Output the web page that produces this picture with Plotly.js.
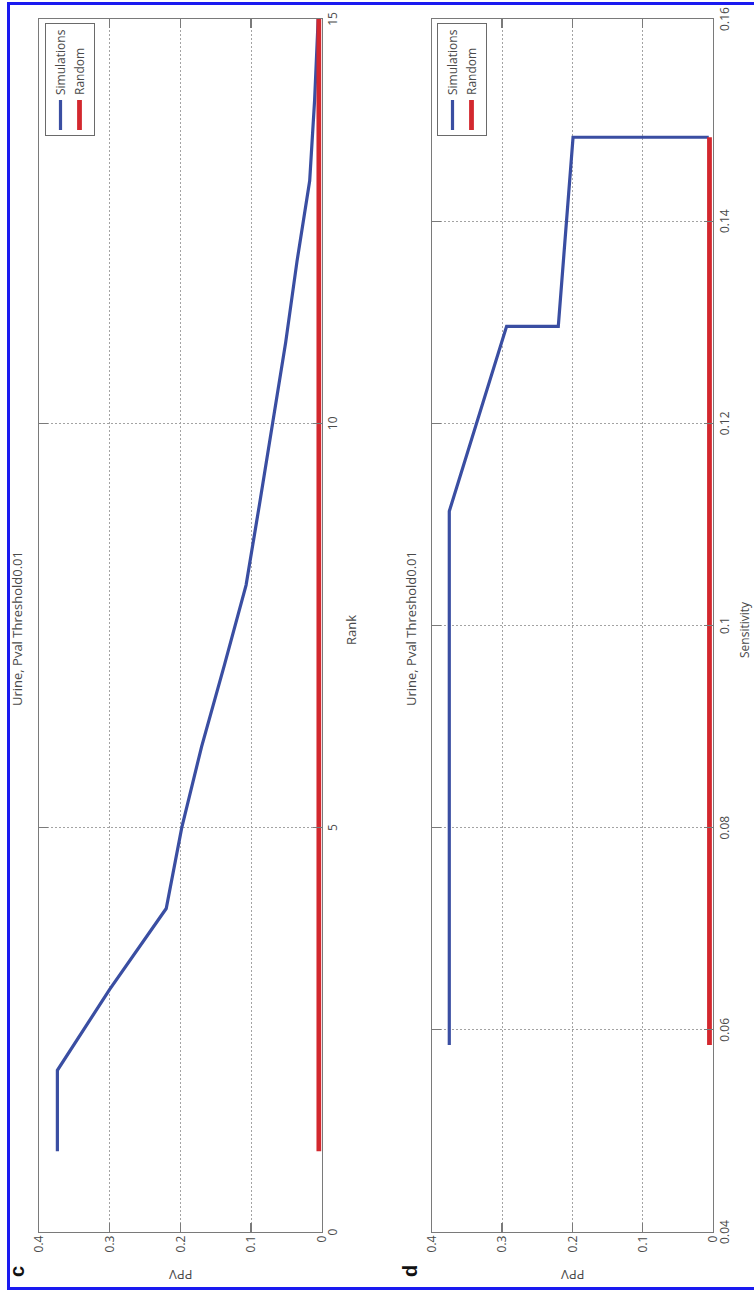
<!DOCTYPE html>
<html>
<head>
<meta charset="utf-8">
<script src="https://cdn.plot.ly/plotly-3.0.1.min.js"></script>
<style>
  html, body { margin:0; padding:0; background:#fff; overflow:hidden; width:754px; height:1291px; }
  #frame { position:absolute; left:7px; top:2px; width:800px; height:1282px;
           border-left:3px solid #1a1af0; border-top:3px solid #1a1af0; border-bottom:3px solid #1a1af0; }
  #wrap { position:absolute; left:0; top:0; width:1291px; height:754px;
          transform-origin:0 0; }
</style>
</head>
<body>
<div id="wrap"></div>
<div id="frame"></div>
<script>
// ---- Panel c: PPV versus rank ----
const rankSim = [1, 2, 3, 4, 5, 6, 7, 8, 9, 10, 11, 12, 13, 14, 15];
const ppvSimRank = [0.374, 0.374, 0.300, 0.220, 0.198, 0.170, 0.138, 0.107, 0.088, 0.069, 0.051, 0.035, 0.017, 0.010, 0.005];
const rankRandom = [1, 15];
const ppvRandomRank = [0.004, 0.004];

// ---- Panel d: PPV versus sensitivity ----
const sensSim = [0.0585, 0.1113, 0.1296, 0.1296, 0.1483, 0.1483];
const ppvSimSens = [0.375, 0.375, 0.2935, 0.220, 0.199, 0.006];
const sensRandom = [0.0585, 0.1483];
const ppvRandomSens = [0.005, 0.005];

// ---- tick labels ----
const ppvTicks = [0, 0.1, 0.2, 0.3, 0.4];
const ppvTickText = ['0', '0.1', '0.2', '0.3', '0.4'];
const rankTicks = [0, 5, 10, 15];
const rankTickText = ['0', '5', '10', '15'];
const sensTicks = [0.04, 0.06, 0.08, 0.1, 0.12, 0.14, 0.16];
const sensTickText = ['0.04', '0.06', '0.08', '0.1', '0.12', '0.14', '0.16'];

const panelTitle = 'Urine, Pval Threshold0.01';
const seriesNames = ['Simulations', 'Random'];

const BLUE = '#3a4ea2';
const RED = '#d3282e';
const AX = '#7a7a7a';
const TXT = '#4a4a4a';
const FONT = 'Open Sans, Liberation Sans, sans-serif';

const traces = [
  {x: rankSim, y: ppvSimRank, name: seriesNames[0], mode: 'lines', xaxis: 'x', yaxis: 'y', legend: 'legend',
   line: {color: BLUE, width: 3.2}},
  {x: rankRandom, y: ppvRandomRank, name: seriesNames[1], mode: 'lines', xaxis: 'x', yaxis: 'y', legend: 'legend',
   line: {color: RED, width: 4.8}},
  {x: sensSim, y: ppvSimSens, name: seriesNames[0], mode: 'lines', xaxis: 'x2', yaxis: 'y2', legend: 'legend2',
   line: {color: BLUE, width: 3.2}},
  {x: sensRandom, y: ppvRandomSens, name: seriesNames[1], mode: 'lines', xaxis: 'x2', yaxis: 'y2', legend: 'legend2',
   line: {color: RED, width: 4.8}}
];

function axisBase(extra) {
  return Object.assign({
    showline: true, linecolor: AX, linewidth: 1.2, mirror: 'ticks',
    ticks: 'inside', ticklen: 9, tickcolor: AX, tickwidth: 1.2,
    showgrid: true, gridcolor: '#a3a3a3', gridwidth: 1, griddash: '2px,2px',
    zeroline: false, tickmode: 'array',
    tickfont: {family: FONT, size: 12, color: TXT}, fixedrange: true
  }, extra);
}

const legendBase = {
  xanchor: 'right', yanchor: 'top', x: 0.9967,
  bgcolor: '#ffffff', bordercolor: '#6a6a6a', borderwidth: 1,
  font: {family: FONT, size: 12, color: TXT}, itemwidth: 30, tracegroupgap: 0
};

const L = 59, R = 19, T = 39, B = 41, W = 1291, H = 754;
const iw = W - L - R, ih = H - T - B;
function px(X) { return (X - L) / iw; }
function py(Y) { return (H - B - Y) / ih; }

const ann = (text, X, Y, opts) => Object.assign({
  text: text, xref: 'paper', yref: 'paper', x: px(X), y: py(Y),
  xanchor: 'center', yanchor: 'middle', showarrow: false,
  font: {family: FONT, size: 12, color: TXT}
}, opts || {});

const layout = {
  width: W, height: H,
  margin: {l: L, r: R, t: T, b: B},
  paper_bgcolor: 'rgba(0,0,0,0)', plot_bgcolor: '#ffffff',
  showlegend: true,
  xaxis: axisBase({domain: [0, 1], range: [0, 15], anchor: 'y', tickvals: rankTicks, ticktext: rankTickText}),
  yaxis: axisBase({domain: [py(321.7), 1], range: [0, 0.4], anchor: 'x', tickvals: ppvTicks, ticktext: ppvTickText}),
  xaxis2: axisBase({domain: [0, 1], range: [0.04, 0.16], anchor: 'y2', tickvals: sensTicks, ticktext: sensTickText}),
  yaxis2: axisBase({domain: [0, py(431.7)], range: [0, 0.4], anchor: 'x2', tickvals: ppvTicks, ticktext: ppvTickText}),
  legend: Object.assign({}, legendBase, {y: py(45)}),
  legend2: Object.assign({}, legendBase, {y: py(437)}),
  annotations: [
    ann(panelTitle, 662, 17, {font: {family: FONT, size: 13, color: TXT}}),
    ann(panelTitle, 662, 411, {font: {family: FONT, size: 13, color: TXT}}),
    ann('Rank', 661, 351, {font: {family: FONT, size: 13, color: TXT}}),
    ann('Sensitivity', 661, 744, {font: {family: FONT, size: 12, color: TXT}}),
    ann('PPV', 16, 180.5, {textangle: -90, font: {family: FONT, size: 13, color: TXT}}),
    ann('PPV', 16, 572.5, {textangle: -90, font: {family: FONT, size: 13, color: TXT}}),
    ann('<b>c</b>', 19, 17, {font: {family: 'Liberation Sans, Arial, sans-serif', size: 20, color: '#111'}}),
    ann('<b>d</b>', 20, 410, {font: {family: 'Liberation Sans, Arial, sans-serif', size: 20, color: '#111'}})
  ]
};

Plotly.newPlot('wrap', traces, layout, {staticPlot: true, displayModeBar: false}).then(function () {
  document.getElementById('wrap').style.transform = 'translateY(1291px) rotate(-90deg)';
});
</script>
</body>
</html>
